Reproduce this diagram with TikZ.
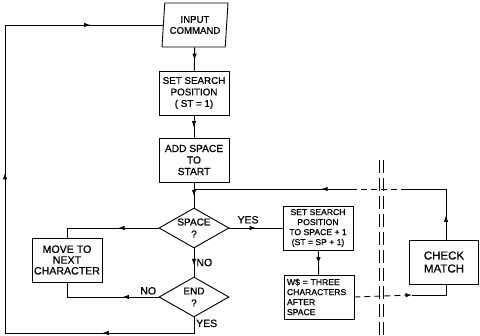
\documentclass[tikz,border=0pt]{standalone}
\usepackage{fontspec}
\setmainfont{Liberation Sans}[FakeBold=0.8]
\usetikzlibrary{shapes.geometric,arrows.meta,decorations.markings}
\tikzstyle{io} = [trapezium, trapezium left angle=82, trapezium right angle=98, trapezium stretches body, draw, line width=0.9pt, minimum width=66pt, minimum height=44pt, align=center, inner sep=1pt]
\tikzstyle{box} = [rectangle, draw, line width=0.9pt, minimum width=70pt, minimum height=44pt, align=center, inner sep=1pt]
\tikzstyle{decision} = [diamond, draw, line width=0.9pt, aspect=1.75, minimum width=70pt, minimum height=40pt, inner sep=0pt, align=center]
\tikzstyle{link} = [line width=0.9pt]
\tikzstyle{dashlink} = [line width=0.9pt, dash pattern=on 6pt off 4pt]
\tikzstyle{tag} = [font=\fontsize{10.5}{12}\selectfont, inner sep=2pt]
\tikzstyle{midarrow} = [postaction={decorate}, decoration={markings, mark=at position #1 with {\arrow{>}}}]
\tikzstyle{barrier} = [line width=0.9pt, dash pattern=on 13pt off 5pt]

\begin{document}
\begin{tikzpicture}[x=1pt, y=-1pt, node distance=68pt, >={Latex[length=6.5pt,width=4.5pt]}]
    \useasboundingbox (0,0) rectangle (480,336);

    \node (input) [io, font=\fontsize{9.6}{11}\selectfont] at (195,25) {INPUT\\COMMAND};
    \node (setpos) [box, below of=input, xshift=-1pt, font=\fontsize{9.8}{11.5}\selectfont] {SET SEARCH\\POSITION\\( ST = 1)};
    \node (addspace) [box, below of=setpos, yshift=1pt, font=\fontsize{10.2}{11.5}\selectfont] {ADD SPACE\\TO\\START};
    \node (space) [decision, below of=addspace, font=\fontsize{10}{12}\selectfont] {SPACE\\?};
    \node (end) [decision, below of=space, yshift=-1pt, font=\fontsize{10}{12}\selectfont] {END\\?};
    \node (move) [box, left of=space, xshift=-59pt, yshift=-32pt, font=\fontsize{10.6}{10.8}\selectfont] {MOVE TO\\NEXT\\CHARACTER};
    \node (setsp) [box, right of=space, xshift=56pt, font=\fontsize{8.6}{10}\selectfont] {SET SEARCH\\POSITION\\TO SPACE + 1\\(ST = SP + 1)};
    \node (wthree) [box, below of=setsp, xshift=1pt, yshift=-1pt, text width=64pt, inner sep=3pt, align=left, font=\fontsize{8.6}{10}\selectfont] {W\$ = THREE\\CHARACTERS\\AFTER\\SPACE};
    \node (check) [box, right of=setsp, xshift=58pt, yshift=-34pt, minimum width=69pt, font=\fontsize{11.5}{13}\selectfont] {CHECK\\MATCH};

    \coordinate (join) at (194,189);
    \coordinate (topgap1) at (355,189);
    \coordinate (topgap2) at (407,189);
    \coordinate (botgap) at (412,295);
    \coordinate (loopcorner) at (5,333);

    % program / subroutine boundary
    \draw [barrier] (379,160) -- (379,336);
    \draw [barrier] (383,160) -- (383,336);

    \draw [link, midarrow=0.55] (input) -- (setpos);
    \draw [link, midarrow=0.55] (setpos) -- (addspace);
    \draw [link, midarrow=0.55] (addspace) -- (space);
    \draw [link, midarrow=0.6] (space) -- node[tag, right] {NO} (end);
    \draw [link, midarrow=0.4] (space.west) -| (move.north);
    \draw [link, midarrow=0.34] (end.west) -| node[tag, above left, pos=0] {NO} (move.south);
    \draw [link, postaction={decorate}, decoration={markings,
            mark=at position 0.16 with {\arrow{>}},
            mark=at position 0.544 with {\arrow{>}},
            mark=at position 0.892 with {\arrow{>}}}]
        (end.south) |- (loopcorner) |- (input.west);
    \node [tag, below right] at (end.south) {YES};
    \draw [link, midarrow=0.5] (space.east) -- node[tag, above, pos=0.35, yshift=2pt] {YES} (setsp.west);
    \draw [link, midarrow=0.55] (setsp) -- (wthree);

    \draw [dashlink, ->] (wthree.east) -- (botgap);
    \draw [link] (botgap) -| ([xshift=2pt]check.south);
    \draw [link, midarrow=0.27] ([xshift=2pt]check.north) |- (topgap2);
    \draw [dashlink] (topgap2) -- (topgap1);
    \draw [link, midarrow=0.21] (topgap1) -- (join);
\end{tikzpicture}
\end{document}
